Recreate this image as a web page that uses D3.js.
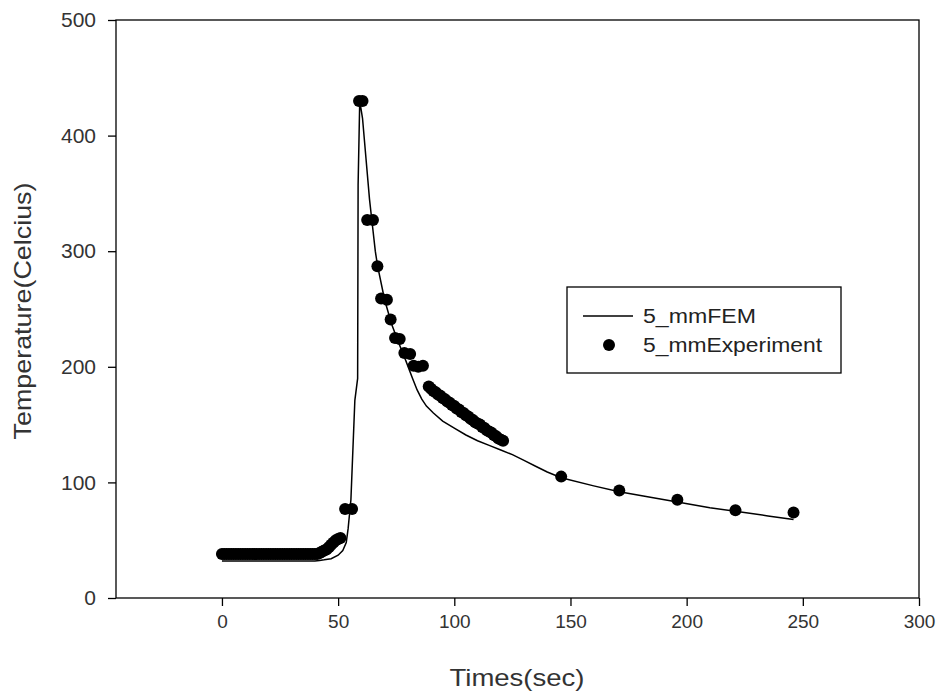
<!DOCTYPE html>
<html><head><meta charset="utf-8">
<script src="https://cdn.jsdelivr.net/npm/d3@7"></script>
<style>body{margin:0;background:#fff}svg{display:block}</style>
</head><body><svg id="c" width="941" height="696"></svg>
<script>
// ---- data ----
const femTime = [0,10,20,30,40,42,44,47,50,52,53.5,54.3,55.5,57.2,58.4,58.6,59.3,60.5,62,63.5,64.5,66,67,70,73,76,79,82,84,86,88,91,95,100,105,110,115,120,125,130,135,140,146,160,171,185,196,210,221,235,246];
const femTemp = [32,32,32,32,32,32.5,33,34,37,41,48,60,85,171,190,357,430,415,380,345,327,300,287,258,237,221,206,190,180,172,166,160,153,147,141,136,132,128,124,119,114,109,104,97,92,87,83,78,75,71,68];
const expTime = [0,1,2,3,4,5,6,7,8,9,10,11,12,13,14,15,16,17,18,19,20,21,22,23,24,25,26,27,28,29,30,31,32,33,34,35,36,37,38,39,40,41,
  42,43,44,45,46,47,48,49,50,51,53,56,59,60.5,62.5,65,66.9,68.5,71,72.6,74.5,76.5,78.5,81,82.5,84.5,86.5,
  89,90,91,92,93,94,95,96,97,98,99,100,101,102,103,104,105,106,107,108,109,110,111,112,113,114,115,116,117,118,119,120,121,
  146,171,196,221,246];
const expTemp = [38,38,38,38,38,38,38,38,38,38,38,38,38,38,38,38,38,38,38,38,38,38,38,38,38,38,38,38,38,38,38,38,38,38,38,38,38,38,38,38,38,38,
  39,40,41,42,44,46,48,50,51,52,77,77,430,430,327,327,287,259,258,241,225,224,212,211,201,200,201,
  183,181,179,178,176,175,173,172,170,169,167,166,164,163,161,160,158,157,155,154,152,151,150,148,147,145,144,143,141,140,138,137,136,
  105,93,85,76,74];
const xTicks = [0,50,100,150,200,250,300];
const yTicks = [0,100,200,300,400,500];
const seriesNames = ["5_mmFEM","5_mmExperiment"];
const xTitle = "Times(sec)";
const yTitle = "Temperature(Celcius)";

// ---- chart ----
const svg = d3.select("#c");
const font = "'Liberation Sans', Arial, sans-serif";
const x = d3.scaleLinear().domain([-45.6, 300]).range([116, 919]);
const y = d3.scaleLinear().domain([0, 500]).range([598, 20]);

// frame
svg.append("rect").attr("x",116).attr("y",20).attr("width",919-116).attr("height",598-20)
  .attr("fill","none").attr("stroke","#000").attr("stroke-width",1.3);

const gx = svg.append("g").attr("transform","translate(0,598)")
  .call(d3.axisBottom(x).tickValues(xTicks).tickSize(8).tickPadding(9).tickFormat(d3.format("d")));
const gy = svg.append("g").attr("transform","translate(116,0)")
  .call(d3.axisLeft(y).tickValues(yTicks).tickSize(8).tickPadding(12).tickFormat(d3.format("d")));
[gx,gy].forEach(g=>{
  g.select(".domain").remove();
  g.selectAll(".tick line").attr("stroke","#000").attr("stroke-width",1.3);
  g.selectAll(".tick text").attr("fill","#333").style("font-family",font);
});
gx.selectAll(".tick text").style("font-size","19px");
gy.selectAll(".tick text").style("font-size","21px");

svg.append("text").attr("x",517).attr("y",686).attr("text-anchor","middle")
  .attr("textLength",135).attr("lengthAdjust","spacingAndGlyphs")
  .style("font-family",font).style("font-size","24px").attr("fill","#333").text(xTitle);
svg.append("text").attr("transform","translate(31,311) rotate(-90)").attr("text-anchor","middle")
  .attr("textLength",257).attr("lengthAdjust","spacingAndGlyphs")
  .style("font-family",font).style("font-size","24px").attr("fill","#333").text(yTitle);

// FEM line
const femData = femTime.map((t,i)=>[t,femTemp[i]]);
svg.append("path").datum(femData)
  .attr("d", d3.line().x(d=>x(d[0])).y(d=>y(d[1])))
  .attr("fill","none").attr("stroke","#000").attr("stroke-width",1.5);

// experiment dots
const expData = expTime.map((t,i)=>[t,expTemp[i]]);
svg.append("g").selectAll("circle").data(expData).join("circle")
  .attr("cx",d=>x(d[0])).attr("cy",d=>y(d[1])).attr("r",6).attr("fill","#000");

// legend
const legendWidths = [113,179];
const lg = svg.append("g");
lg.append("rect").attr("x",567).attr("y",287).attr("width",274).attr("height",86)
  .attr("fill","#fff").attr("stroke","#000").attr("stroke-width",1.3);
lg.append("line").attr("x1",583).attr("x2",633).attr("y1",316).attr("y2",316)
  .attr("stroke","#000").attr("stroke-width",1.5);
lg.append("circle").attr("cx",609).attr("cy",345).attr("r",6).attr("fill","#000");
seriesNames.forEach((s,i)=>{
  lg.append("text").attr("x",643).attr("y",316+i*29).attr("dy","0.35em")
    .attr("textLength",legendWidths[i]).attr("lengthAdjust","spacingAndGlyphs")
    .style("font-family",font).style("font-size","20px").attr("fill","#222").text(s);
});
</script>
</body></html>
